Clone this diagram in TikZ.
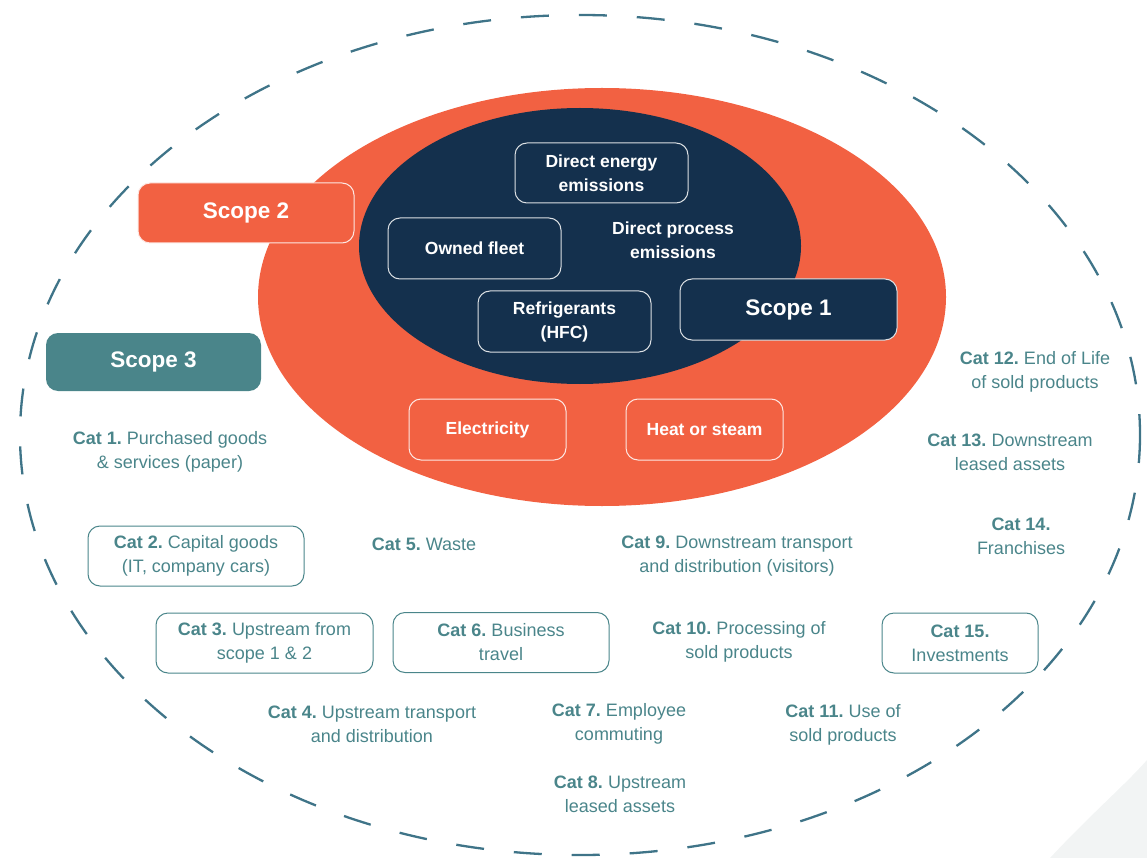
\documentclass[tikz,border=0pt]{standalone}
\usepackage{fontspec}
\setmainfont{Liberation Sans}
\definecolor{orangeS}{HTML}{F26142}
\definecolor{navyS}{HTML}{14304D}
\definecolor{tealS}{HTML}{4A858A}
\definecolor{dashS}{HTML}{3F7488}
\definecolor{greyS}{HTML}{F2F4F4}
\begin{document}
\frenchspacing
\begin{tikzpicture}[x=1pt,y=-1pt,
  catbox/.style={draw=tealS,line width=1pt,rounded corners=12pt,minimum width=216pt,minimum height=60pt,align=center,text=tealS,font=\fontsize{18}{24}\selectfont},
  cattxt/.style={align=center,text=tealS,font=\fontsize{18}{24}\selectfont},
  innerbox/.style={draw=white!85!navyS,line width=1pt,rounded corners=12pt,fill=navyS,minimum width=173pt,minimum height=60pt,align=center,text=white,font=\bfseries\fontsize{17.5}{24}\selectfont},
  orbox/.style={draw=white!85!orangeS,line width=1pt,rounded corners=12pt,fill=orangeS,minimum width=157pt,minimum height=61pt,align=center,text=white,font=\bfseries\fontsize{17.5}{24}\selectfont},
  scopebox/.style={rounded corners=12pt,minimum width=216pt,minimum height=60pt,align=center,text=white,font=\bfseries\fontsize{22.5}{26}\selectfont}]
\useasboundingbox (0,0) rectangle (1147,858);
% faint background corner
\fill[greyS] (1050,858) .. controls (1090,815) and (1125,785) .. (1147,760) -- (1147,858) -- cycle;
% outer dashed ellipse
\draw[dashS,line width=2.3pt,dash pattern=on 28pt off 30pt] (580,435) ellipse [x radius=560,y radius=420];
% orange and navy ellipses
\fill[orangeS] (602,297) ellipse [x radius=344,y radius=209];
\fill[navyS] (580,246) ellipse [x radius=221,y radius=138];
% Scope labels
\node[scopebox,fill=orangeS,draw=white!85!orangeS,line width=1pt] (s2) at (246,213) {Scope 2};
\node[scopebox,fill=tealS,minimum height=58pt,minimum width=215pt] (s3) at (153.5,362) {Scope 3};
\node[scopebox,fill=navyS,draw=white!85!navyS,line width=1pt,minimum width=217pt,minimum height=61pt] (s1) at (788.5,309.5) {Scope 1};
% Scope 1 items
\node[innerbox] (dee) at (601.5,173) {Direct energy\\emissions};
\node[innerbox,minimum height=61pt] (of) at (474.5,248.5) {Owned fleet};
\node[innerbox,minimum height=61pt] (ref) at (564.5,321.5) {Refrigerants\\(HFC)};
\node[align=center,text=white,font=\bfseries\fontsize{17.5}{24}\selectfont] (dpe) at (673,240) {Direct process\\emissions};
% Scope 2 items
\node[orbox] (el) at (487.5,429.5) {Electricity};
\node[orbox] (hs) at (704.5,429.5) {Heat or steam};
% Scope 3 categories
\node[cattxt] (c1) at (170,452) {\textbf{Cat 1.} Purchased goods\\\& services (paper)};
\node[catbox] (c2) at (196,556) {\textbf{Cat 2.} Capital goods\\(IT, company cars)};
\node[catbox,minimum width=217pt] (c3) at (264.5,643) {\textbf{Cat 3.} Upstream from\\scope 1 \& 2};
\node[cattxt] (c4) at (372,724) {\textbf{Cat 4.} Upstream transport\\and distribution};
\node[cattxt] (c5) at (424,544) {\textbf{Cat 5.} Waste};
\node[catbox] (c6) at (501,642.5) {\textbf{Cat 6.} Business\\travel};
\node[cattxt] (c7) at (619,724) {\textbf{Cat 7.} Employee\\commuting};
\node[cattxt] (c8) at (620,794) {\textbf{Cat 8.} Upstream\\leased assets};
\node[cattxt] (c9) at (737,556) {\textbf{Cat 9.} Downstream transport\\and distribution (visitors)};
\node[cattxt] (c10) at (739,642) {\textbf{Cat 10.} Processing of\\sold products};
\node[cattxt] (c11) at (843,725) {\textbf{Cat 11.} Use of\\sold products};
\node[cattxt] (c12) at (1035,372) {\textbf{Cat 12.} End of Life\\of sold products};
\node[cattxt] (c13) at (1010,452) {\textbf{Cat 13.} Downstream\\leased assets};
\node[cattxt] (c14) at (1021,536) {\textbf{Cat 14.}\\Franchises};
\node[catbox,minimum width=156pt] (c15) at (960,643) {\textbf{Cat 15.}\\Investments};
\end{tikzpicture}
\end{document}
